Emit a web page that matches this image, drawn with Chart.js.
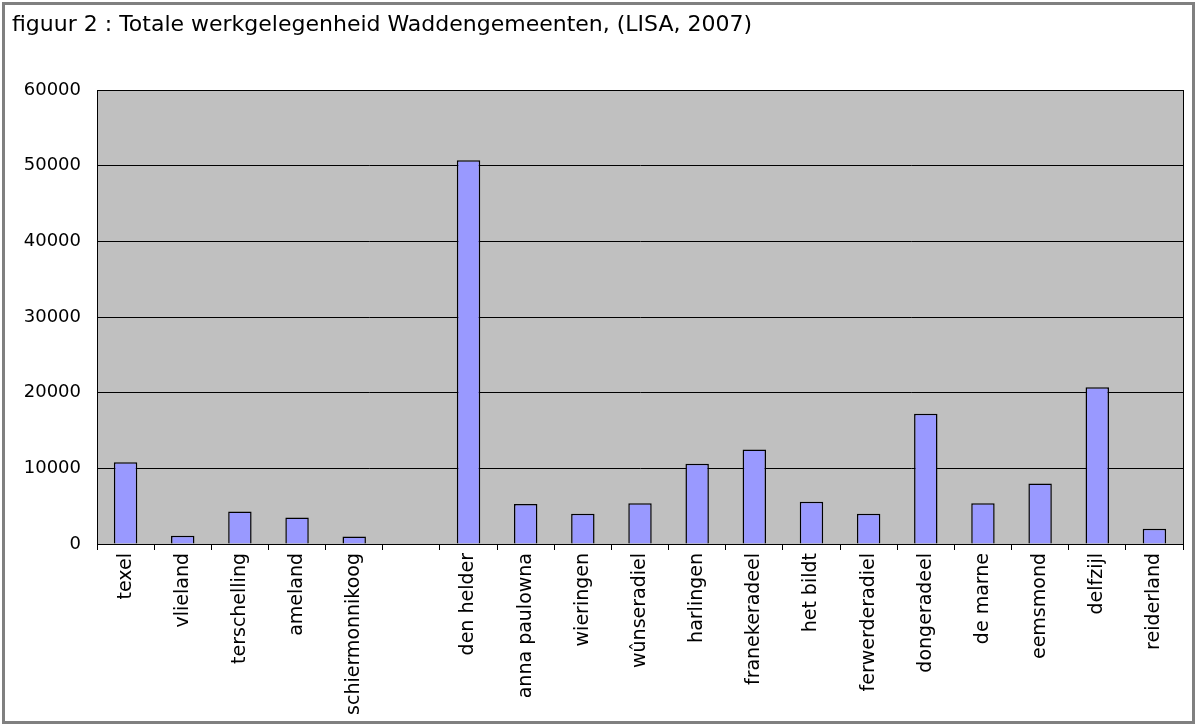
<!DOCTYPE html>
<html>
<head>
<meta charset="utf-8">
<script src="https://cdn.jsdelivr.net/npm/chart.js@4.4.1/dist/chart.umd.min.js"></script>
<style>
  html, body { margin: 0; padding: 0; background: #fff; }
  #wrap { position: relative; width: 1197px; height: 726px; }
</style>
</head>
<body>
<div id="wrap"><canvas id="werk" width="1197" height="726"></canvas></div>
<script>
const gemeenten = [
  "texel", "vlieland", "terschelling", "ameland", "schiermonnikoog", "",
  "den helder", "anna paulowna", "wieringen", "wûnseradiel", "harlingen",
  "franekeradeel", "het bildt", "ferwerderadiel", "dongeradeel", "de marne",
  "eemsmond", "delfzijl", "reiderland"
];
const banen = [
  10800, 1100, 4300, 3500, 1000, null,
  50700, 5300, 4000, 5400, 10600,
  12500, 5600, 4000, 17200, 5400,
  8000, 20700, 2000
];
const yTicks = [0, 10000, 20000, 30000, 40000, 50000, 60000];
const titel = "figuur 2 : Totale werkgelegenheid Waddengemeenten, (LISA, 2007)";

const fontFam = "'DejaVu Sans', Verdana, sans-serif";

// grey plot background, plot frame, outer border and title
const decor = {
  id: "decor",
  beforeDraw(chart) {
    const { ctx, chartArea: a } = chart;
    ctx.save();
    ctx.fillStyle = "#c0c0c0";
    ctx.fillRect(a.left, a.top, a.right - a.left, a.bottom - a.top);
    ctx.restore();
  },
  afterDraw(chart) {
    const { ctx, chartArea: a } = chart;
    ctx.save();
    ctx.strokeStyle = "#000";
    ctx.lineWidth = 1;
    ctx.strokeRect(Math.round(a.left) + 0.5, Math.round(a.top) + 0.5,
      Math.round(a.right - a.left), Math.round(a.bottom - a.top));
    ctx.strokeStyle = "#808080";
    ctx.lineWidth = 3;
    ctx.strokeRect(3.5, 3.5, 1190, 719);
    ctx.fillStyle = "#000";
    ctx.font = "22px " + fontFam;
    ctx.textBaseline = "alphabetic";
    ctx.fillText(titel, 12, 31);
    ctx.restore();
  }
};

new Chart(document.getElementById("werk").getContext("2d"), {
  type: "bar",
  data: {
    labels: gemeenten,
    datasets: [{
      label: "werkgelegenheid",
      data: banen,
      backgroundColor: "#9999ff",
      borderColor: "#000",
      borderWidth: 1.5,
      barPercentage: 0.41,
      categoryPercentage: 1
    }]
  },
  options: {
    responsive: false,
    animation: false,
    layout: { padding: { top: 90, right: 14, left: 0, bottom: 0 } },
    plugins: { legend: { display: false }, tooltip: { enabled: false } },
    scales: {
      x: {
        afterFit(scale) { scale.height = 182; },
        grid: { offset: true, drawOnChartArea: false, color: "#000", tickLength: 6 },
        border: { color: "#000" },
        ticks: {
          minRotation: 90, maxRotation: 90, autoSkip: false, padding: 3,
          color: "#000", font: { family: fontFam, size: 19 }
        }
      },
      y: {
        min: 0, max: 60000,
        afterFit(scale) { scale.width = 97; },
        afterBuildTicks(scale) { scale.ticks = yTicks.map(v => ({ value: v })); },
        grid: { color: "#000", drawTicks: false },
        border: { color: "#000" },
        ticks: {
          padding: 16, color: "#000",
          font: { family: fontFam, size: 18 },
          callback: v => String(v)
        }
      }
    }
  },
  plugins: [decor]
});
</script>
</body>
</html>
